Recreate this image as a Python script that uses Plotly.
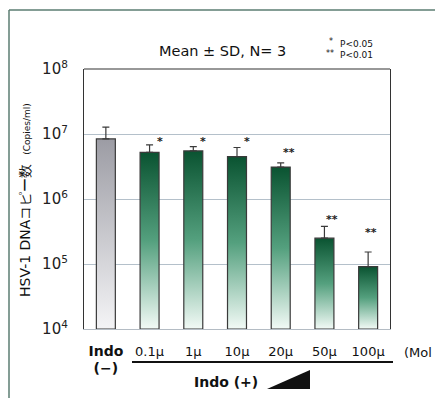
import plotly.graph_objects as go
import numpy as np

# ---- data ----
categories = ["Indo (−)", "0.1μ", "1μ", "10μ", "20μ", "50μ", "100μ"]
tick_labels = ["<b><span style='font-size:14px'>Indo</span></b><br><b><span style='font-size:14px'>(−)</span></b>",
               "0.1μ", "1μ", "10μ", "20μ", "50μ", "100μ"]
mean_copies = [8.4e6, 5.2e6, 5.5e6, 4.5e6, 3.1e6, 2.5e5, 9.1e4]
sd_copies = [4.4e6, 1.6e6, 0.9e6, 1.7e6, 0.5e6, 1.3e5, 6.2e4]
significance = ["", "*", "*", "*", "**", "**", "**"]
ytick_vals = [1e4, 1e5, 1e6, 1e7, 1e8]
ytick_text = ["10<sup>4</sup>", "10<sup>5</sup>", "10<sup>6</sup>", "10<sup>7</sup>", "10<sup>8</sup>"]

# ---- layout constants ----
W, H = 435, 398
L, R, T, B = 84, 390, 69, 329
half_w = 0.217
base = 1e4
FONT = "DejaVu Sans"

fig = go.Figure()

grey_scale = [[0, "#f4f4f6"], [1, "#9c9ca4"]]
green_scale = [[0, "#f2faf6"], [0.5, "#54a07e"], [1, "#0a5331"]]

for i, v in enumerate(mean_copies):
    xs = [i - half_w, i - half_w, i + half_w, i + half_w, i - half_w]
    ys = [base, v, v, base, base]
    fig.add_trace(go.Scatter(
        x=xs, y=ys, mode="lines", fill="toself",
        fillgradient=dict(type="vertical", colorscale=grey_scale if i == 0 else green_scale),
        line=dict(color="#3a3a3a", width=1.2),
        hoverinfo="skip", showlegend=False))

fig.add_trace(go.Scatter(
    x=list(range(len(mean_copies))), y=mean_copies, mode="markers",
    marker=dict(size=0.1, color="rgba(0,0,0,0)"),
    error_y=dict(type="data", array=sd_copies, arrayminus=[0] * len(sd_copies),
                 symmetric=False, color="#3a3a3a", thickness=1.2, width=3.5),
    showlegend=False, hoverinfo="skip"))

# significance marks
star_dx = [0, 0.24, 0.22, 0.22, 0.2, 0.17, 0.07]
star_logy = [0, 6.88, 6.88, 6.88, 6.71, 5.69, 5.49]
for i, s in enumerate(significance):
    if s:
        fig.add_annotation(x=i + star_dx[i], y=star_logy[i], text="<b>" + s + "</b>",
                           showarrow=False, font=dict(size=11, color="#222", family=FONT),
                           xanchor="center", yanchor="middle")

def px(xp):
    return (xp - L) / (R - L)

def py(yp):
    return (B - yp) / (B - T)

def note(x, y, text, size, xanchor="center", angle=0):
    fig.add_annotation(x=px(x), y=py(y), xref="paper", yref="paper", text=text,
                       xanchor=xanchor, yanchor="middle", textangle=angle,
                       showarrow=False, font=dict(size=size, color="#111", family=FONT))

# title and p-value legend
note(222, 51, "Mean ± SD, N= 3", 14.5)
note(331, 42, "*", 8)
note(330, 53, "**", 8)
note(338, 44, "P<0.05", 9, "left")
note(338, 55, "P<0.01", 9, "left")

# y-axis title
note(25, 200, "HSV-1 DNAコピー数  <span style='font-size:9px'>(Copies/ml)</span>", 14, angle=-90)

# unit label at right (cut by the picture edge in the original)
note(434, 352, "(Mol", 13, "right")
# Indo (+)
note(226, 382, "<b>Indo (+)</b>", 14)

shapes = []
# line under concentrations
shapes.append(dict(type="line", xref="paper", yref="paper", x0=px(132), x1=px(393), y0=py(362), y1=py(362),
                   line=dict(color="#111", width=2)))
# wedge
shapes.append(dict(type="path", xref="paper", yref="paper",
                   path=f"M {px(267)} {py(389)} L {px(310)} {py(389)} L {px(310)} {py(370)} Z",
                   fillcolor="#111", line=dict(width=0)))
# top border of plot
shapes.append(dict(type="line", xref="paper", yref="paper", x0=0, x1=1, y0=1, y1=1,
                   line=dict(color="#333", width=1.2)))
# outer frame
shapes.append(dict(type="line", xref="paper", yref="paper", x0=px(9), x1=px(440), y0=py(10), y1=py(10),
                   line=dict(color="#5b7d72", width=1.5)))
shapes.append(dict(type="line", xref="paper", yref="paper", x0=px(9), x1=px(9), y0=py(10), y1=py(400),
                   line=dict(color="#5b7d72", width=1.5)))

fig.update_layout(
    width=W, height=H,
    margin=dict(l=L, r=W - R, t=T, b=H - B),
    paper_bgcolor="white", plot_bgcolor="white",
    font=dict(family=FONT, color="#111"),
    shapes=shapes,
    xaxis=dict(range=[-0.5, 6.5], tickvals=list(range(len(categories))), ticktext=tick_labels,
               showgrid=False, zeroline=False, showline=True, linecolor="#b4bcc4", linewidth=1,
               ticks="", tickfont=dict(size=13, family=FONT, color="#111"), ticklabelstandoff=10),
    yaxis=dict(type="log", range=[4, 8], tickvals=ytick_vals, ticktext=ytick_text,
               showgrid=True, gridcolor="#b4c0ca", gridwidth=1, zeroline=False,
               showline=True, linecolor="#333", linewidth=1.2, mirror=True,
               ticks="", tickfont=dict(size=15, family=FONT, color="#222"), ticklabelstandoff=12),
)

fig.write_html("out.html", config={"displayModeBar": False},
               post_script="document.body.style.margin='0';document.body.style.overflow='hidden';")
